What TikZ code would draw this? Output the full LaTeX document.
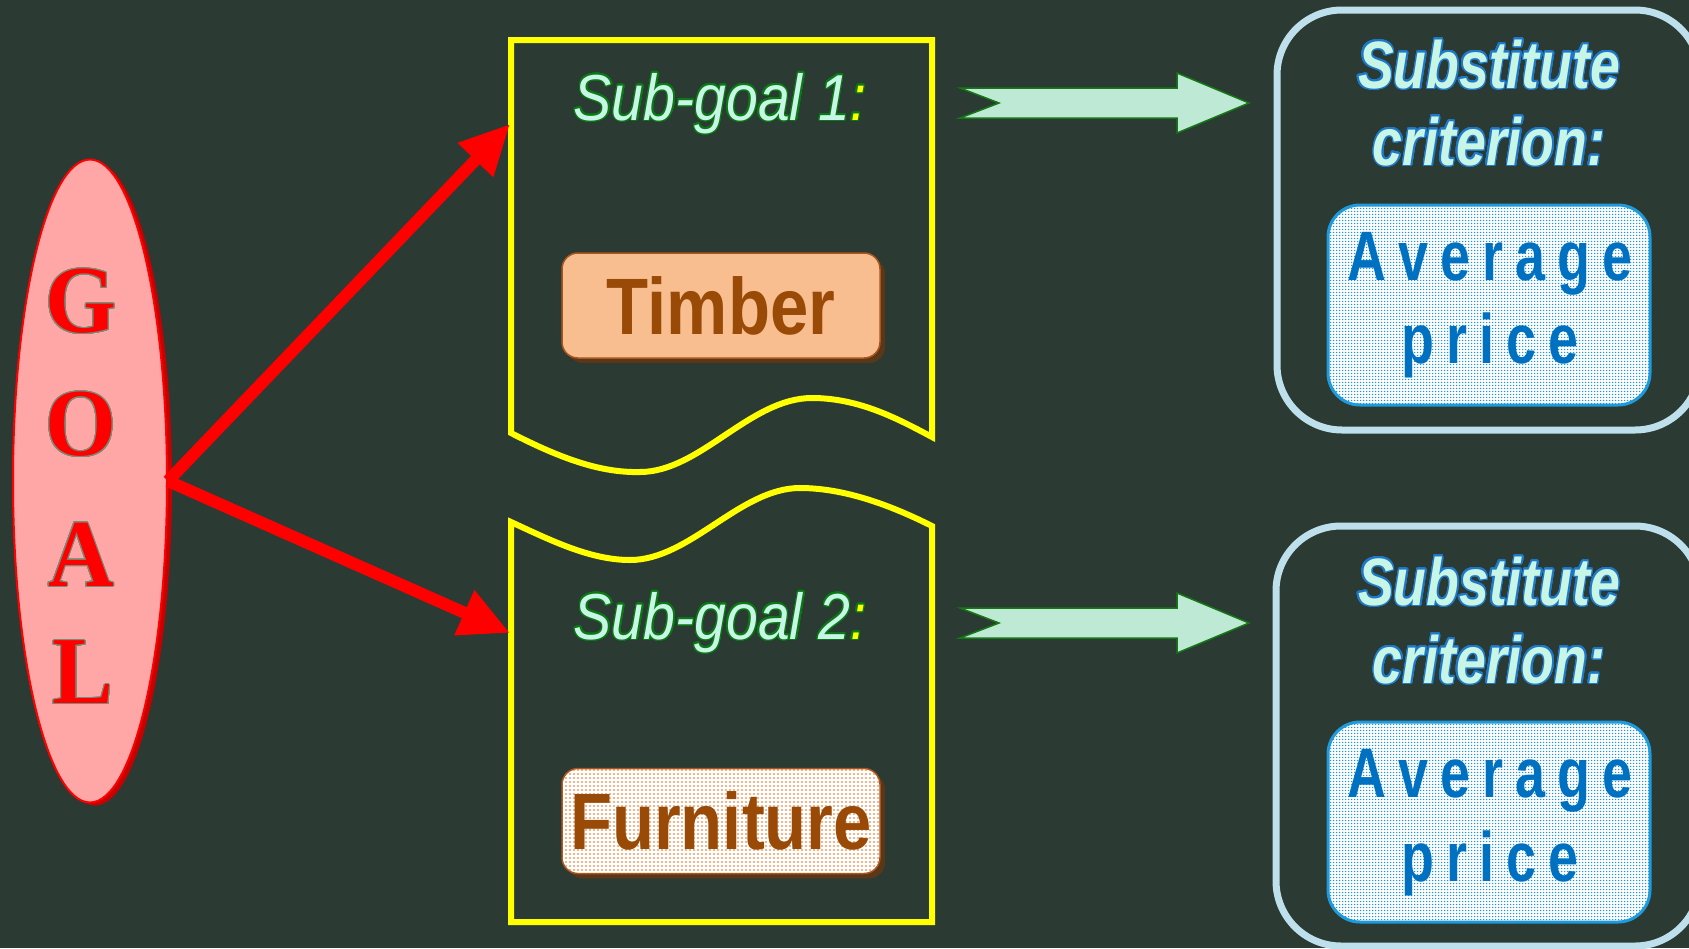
\documentclass[tikz,border=0pt]{standalone}
\usepackage{fontspec}
\usepackage{contour}
\usetikzlibrary{shapes.geometric,arrows.meta,patterns.meta,shadows}
\setmainfont{Liberation Sans}
\newfontfamily\subfont[FakeStretch=0.88]{Liberation Sans}
\newfontfamily\critfont[FakeStretch=0.8]{Liberation Sans}
\newfontfamily\boxfont[FakeStretch=0.86]{Liberation Sans}
\newfontfamily\avgfont[FakeStretch=0.77]{Liberation Sans}
\newfontfamily\goalfont[FakeStretch=0.95]{Liberation Serif}
\contournumber{32}
\definecolor{bg}{RGB}{43,58,50}
\definecolor{mint}{RGB}{200,246,230}
\definecolor{subout}{RGB}{10,120,20}
\definecolor{pinkfill}{RGB}{255,167,167}
\definecolor{shadowred}{RGB}{200,0,0}
\definecolor{goalout}{RGB}{120,140,120}
\definecolor{ybox}{RGB}{255,255,0}
\definecolor{tfill}{RGB}{248,190,143}
\definecolor{tborder}{RGB}{170,85,30}
\definecolor{tshadow}{RGB}{90,55,25}
\definecolor{ttext}{RGB}{153,74,7}
\definecolor{dotorange}{RGB}{235,105,20}
\definecolor{arrfill}{RGB}{190,233,213}
\definecolor{arrline}{RGB}{20,120,20}
\definecolor{critbox}{RGB}{190,224,236}
\definecolor{critout}{RGB}{30,120,200}
\definecolor{avgborder}{RGB}{30,155,220}
\definecolor{avgdots}{RGB}{30,150,220}
\definecolor{avgtext}{RGB}{0,112,192}
\newcommand\lsp{\hspace{12pt}}
\pgfdeclarepattern{name=odots, type=uncolored,
  bottom left={\pgfpoint{-.1pt}{-.1pt}}, top right={\pgfpoint{4.1pt}{4.1pt}},
  tile size={\pgfpoint{4pt}{4pt}},
  code={\pgfpathcircle{\pgfpoint{2pt}{2pt}}{0.9pt}\pgfusepath{fill}}}
\pgfdeclarepattern{name=bdots, type=uncolored,
  bottom left={\pgfpoint{-.1pt}{-.1pt}}, top right={\pgfpoint{3.1pt}{3.1pt}},
  tile size={\pgfpoint{3pt}{3pt}},
  code={\pgfpathcircle{\pgfpoint{1.5pt}{1.5pt}}{0.75pt}\pgfusepath{fill}}}
\begin{document}
\begin{tikzpicture}[x=1pt,y=-1pt,
  goalell/.style={ellipse, draw=red, line width=2, fill=pinkfill,
    minimum width=154, minimum height=643, inner sep=0,
    general shadow={shadow xshift=5pt, shadow yshift=-3pt, fill=shadowred}},
  goalletter/.style={text=red, font=\goalfont\bfseries\fontsize{96}{100}\selectfont, inner sep=0},
  goalarrow/.style={draw=red, line width=12, -{Triangle[length=50pt,width=46pt]}},
  ywave/.style={draw=ybox, line width=6, line join=miter},
  subtext/.style={text=mint, font=\subfont\itshape\fontsize{65}{78}\selectfont, inner sep=0},
  woodbox/.style={rounded corners=16, draw=tborder, line width=1.5,
    minimum width=318, minimum height=105, inner sep=0,
    text=ttext, font=\boxfont\bfseries\fontsize{80}{90}\selectfont,
    general shadow={shadow xshift=5pt, shadow yshift=-5pt, fill=tshadow}},
  blockarrow/.style={fill=arrfill, draw=arrline, line width=1.5, line join=miter},
  critframe/.style={draw=critbox, line width=7, rounded corners=65},
  crittext/.style={text=mint, font=\critfont\bfseries\itshape\fontsize{67}{78}\selectfont, inner sep=0},
  avgbox/.style={rounded corners=32, draw=avgborder, line width=3, fill=white,
    postaction={pattern={bdots}, pattern color=avgdots},
    minimum width=322, minimum height=200, inner sep=0},
  avgtextstyle/.style={text=avgtext, font=\avgfont\bfseries\fontsize{70}{80}\selectfont, inner sep=0}
]
\useasboundingbox (0,0) rectangle (1689,948);
\clip (0,0) rectangle (1689,948);
\fill[bg] (0,0) rectangle (1689,948);

% GOAL ellipse
\node[goalell] (goal) at (90,481) {};
\contourlength{1pt}
\node[goalletter] (gG) at (81,302) {\contour{goalout}{G}};
\node[goalletter] (gO) at (81,425) {\contour{goalout}{O}};
\node[goalletter] (gA) at (81,555) {\contour{goalout}{A}};
\node[goalletter] (gL) at (83,673) {\contour{goalout}{L}};

% yellow sub-goal frames
\draw[ywave] (511,40) -- (932,40) -- (932,437)
  .. controls (900,420) and (860,398) .. (812,398)
  .. controls (750,398) and (700,472) .. (640,472)
  .. controls (600,473) and (560,458) .. (511,433) -- cycle;
\draw[ywave] (511,522)
  .. controls (550,540) and (590,560) .. (630,560)
  .. controls (690,560) and (740,488) .. (800,488)
  .. controls (850,488) and (900,510) .. (932,526)
  -- (932,922) -- (511,922) -- cycle;
\coordinate (t1) at (510,124);
\coordinate (t2) at (510,633);

% arrows from goal
\draw[goalarrow] (goal.east) -- (t1);
\draw[goalarrow] (goal.east) -- (t2);

% sub-goal titles
\contourlength{1.4pt}
\node[subtext, anchor=base] (s1) at (720,120) {\contour{subout}{Sub-goal 1\textcolor{ybox}{:}}};
\node[subtext, anchor=base] (s2) at (720,639) {\contour{subout}{Sub-goal 2\textcolor{ybox}{:}}};

% boxes
\node[woodbox, fill=tfill] (timber) at (721,305.5) {Timber};
\node[woodbox, fill=white, postaction={pattern={odots}, pattern color=dotorange}] (furn) at (721,821) {};
\node[text=ttext, font=\boxfont\bfseries\fontsize{80}{90}\selectfont, inner sep=0] (furntext) at (furn.center) {Furniture};

% block arrows
\foreach \dy/\nm in {0/ba1, 520/ba2}{
  \begin{scope}[shift={(0,\dy)}]
    \draw[blockarrow] (960,88) -- (1177,88) -- (1177,73) -- (1249,103)
      -- (1177,133) -- (1177,118) -- (960,118) -- (999,103) -- cycle;
  \end{scope}
}

% substitute criterion frames
\draw[critframe] (1277,10) rectangle (1700,430);
\draw[critframe] (1276,526) rectangle (1700,946);
\contourlength{1.5pt}
\node[crittext, anchor=base] (c1a) at (1489,88) {\contour{critout}{Substitute}};
\node[crittext, anchor=base] (c1b) at (1489,165) {\contour{critout}{criterion:}};
\node[crittext, anchor=base] (c2a) at (1489,605) {\contour{critout}{Substitute}};
\node[crittext, anchor=base] (c2b) at (1489,683) {\contour{critout}{criterion:}};

\node[avgbox] (avg1) at (1489,305) {};
\node[avgbox] (avg2) at (1489,822) {};
\node[avgtextstyle, anchor=base] (a1a) at (1490,280) {A\lsp v\lsp e\lsp r\lsp a\lsp g\lsp e};
\node[avgtextstyle, anchor=base] (a1b) at (1490,363) {p\lsp r\lsp i\lsp c\lsp e};
\node[avgtextstyle, anchor=base] (a2a) at (1490,797) {A\lsp v\lsp e\lsp r\lsp a\lsp g\lsp e};
\node[avgtextstyle, anchor=base] (a2b) at (1490,881) {p\lsp r\lsp i\lsp c\lsp e};
\end{tikzpicture}
\end{document}
